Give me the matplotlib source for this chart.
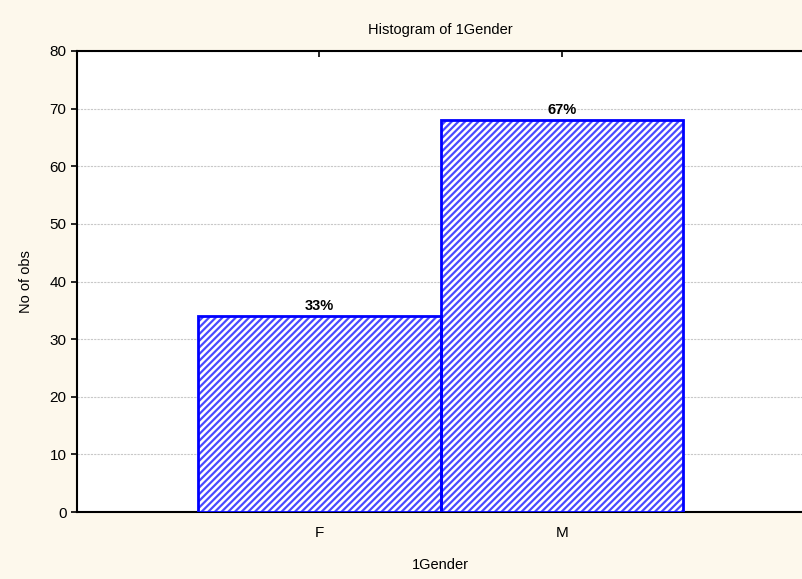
import numpy as np
import matplotlib
matplotlib.use("Agg")
import matplotlib.pyplot as plt

# Data
categories = ["F", "M"]
counts = [34, 68]
percents = ["33%", "67%"]

plt.rcParams['font.family'] = ['Liberation Sans', 'DejaVu Sans']
plt.rcParams['hatch.linewidth'] = 1.6

fig = plt.figure(figsize=(8.02, 5.79), dpi=100, facecolor='#fdf8ec')
ax = fig.add_axes([77 / 802, 1 - 512 / 579, 727 / 802, 461 / 579])
ax.set_facecolor('white')

x = np.arange(len(categories))
# hatch fill (lighter blue) and outline drawn separately
ax.bar(x, counts, width=1.0, color='white', edgecolor='#4a4aff',
       hatch='/////', linewidth=0, zorder=3)
ax.bar(x, counts, width=1.0, fill=False, edgecolor='#0000ff',
       linewidth=2, zorder=4)

for xi, c, p in zip(x, counts, percents):
    ax.text(xi, c + 0.6, p, ha='center', va='bottom', fontsize=10.5,
            fontweight='bold', color='black', zorder=5)

ax.set_xlim(-1, 2)
ax.set_ylim(0, 80)
ax.set_yticks(np.arange(0, 81, 10))
ax.set_xticks(x)
ax.set_xticklabels(categories)

ax.yaxis.grid(True, linestyle=(0, (2, 1)), color='#c8c8c8', linewidth=0.8, zorder=0)
ax.set_axisbelow(True)

ax.tick_params(axis='x', direction='in', top=True, bottom=True, length=4,
               labelsize=11, pad=10, width=1.2)
ax.tick_params(axis='y', direction='out', length=4, labelsize=11, width=1.2)

for s in ['left', 'bottom', 'top']:
    ax.spines[s].set_linewidth(1.5)
ax.spines['right'].set_visible(False)

ax.set_title("Histogram of 1Gender", fontsize=10.5, pad=12)
ax.set_xlabel("1Gender", fontsize=10.5, labelpad=13)
ax.set_ylabel("No of obs", fontsize=10.5, labelpad=12)

fig.savefig("out.png", dpi=100, facecolor=fig.get_facecolor())
